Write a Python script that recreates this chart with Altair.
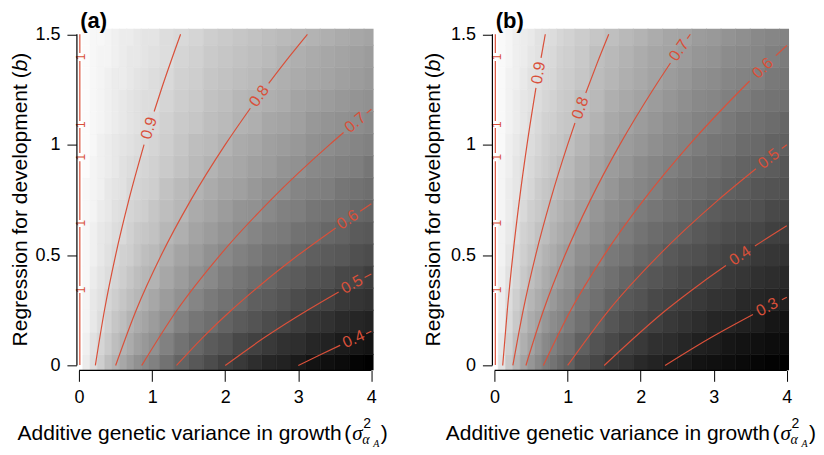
import altair as alt
import pandas as pd

RED = "#d9503a"
FONT = "Liberation Sans"
SERIF = "Liberation Serif"
W, H = 297, 342

# cell centres of the shaded grid (finer columns where the shade changes fast)
X_CENTERS = [0.0, 0.1, 0.2, 0.3, 0.4, 0.5, 0.6, 0.7, 0.8, 0.9, 1.0,
             1.2, 1.4, 1.6, 1.8, 2.0, 2.2, 2.4, 2.6, 2.8, 3.0,
             3.2, 3.4, 3.6, 3.8, 4.0]
B_CENTERS = [0.0, 0.1, 0.2, 0.3, 0.4, 0.5, 0.6, 0.7, 0.8, 0.9, 1.0,
             1.1, 1.2, 1.3, 1.4, 1.5]

# shade of each cell (x100), one row per b value, panel (a)
A_GRID = [
    [100, 95, 91, 87, 83, 80, 77, 74, 71, 69, 67, 63, 59, 56, 53, 50, 48, 45, 43, 42, 40, 38, 37, 36, 34, 33],
    [100, 96, 92, 89, 86, 83, 80, 78, 75, 73, 71, 67, 63, 60, 57, 55, 52, 50, 48, 46, 45, 43, 42, 40, 39, 38],
    [100, 97, 94, 91, 88, 85, 83, 80, 78, 76, 74, 71, 67, 64, 62, 59, 57, 55, 53, 51, 49, 47, 46, 44, 43, 42],
    [100, 97, 94, 92, 89, 87, 85, 83, 81, 79, 77, 74, 71, 68, 65, 63, 61, 58, 57, 55, 53, 51, 50, 48, 47, 46],
    [100, 98, 95, 93, 91, 89, 87, 85, 83, 81, 80, 77, 74, 71, 69, 66, 64, 62, 60, 58, 57, 55, 54, 52, 51, 49],
    [100, 98, 96, 94, 92, 90, 88, 87, 85, 83, 82, 79, 76, 74, 71, 69, 67, 65, 63, 62, 60, 58, 57, 56, 54, 53],
    [100, 98, 96, 94, 93, 91, 90, 88, 86, 85, 84, 81, 79, 76, 74, 72, 70, 68, 66, 65, 63, 62, 60, 59, 57, 56],
    [100, 98, 97, 95, 94, 92, 91, 89, 88, 87, 85, 83, 81, 78, 76, 74, 72, 71, 69, 67, 66, 64, 63, 62, 60, 59],
    [100, 98, 97, 96, 94, 93, 92, 90, 89, 88, 87, 84, 82, 80, 78, 76, 75, 73, 71, 70, 68, 67, 66, 64, 63, 62],
    [100, 99, 97, 96, 95, 94, 92, 91, 90, 89, 88, 86, 84, 82, 80, 78, 77, 75, 74, 72, 71, 69, 68, 67, 66, 64],
    [100, 99, 98, 96, 95, 94, 93, 92, 91, 90, 89, 87, 85, 83, 82, 80, 78, 77, 75, 74, 73, 71, 70, 69, 68, 67],
    [100, 99, 98, 97, 96, 95, 94, 93, 92, 91, 90, 88, 86, 85, 83, 82, 80, 79, 77, 76, 75, 73, 72, 71, 70, 69],
    [100, 99, 98, 97, 96, 95, 94, 93, 92, 91, 91, 89, 87, 86, 84, 83, 81, 80, 79, 78, 76, 75, 74, 73, 72, 71],
    [100, 99, 98, 97, 96, 95, 95, 94, 93, 92, 91, 90, 88, 87, 85, 84, 83, 82, 80, 79, 78, 77, 76, 75, 74, 73],
    [100, 99, 98, 97, 97, 96, 95, 94, 94, 93, 92, 91, 89, 88, 86, 85, 84, 83, 82, 80, 79, 78, 77, 76, 75, 74],
    [100, 99, 98, 98, 97, 96, 95, 95, 94, 93, 93, 91, 90, 89, 87, 86, 85, 84, 83, 82, 81, 80, 79, 78, 77, 76],
]

# panel (b)
B_GRID = [
    [100, 91, 83, 77, 71, 67, 63, 59, 56, 53, 50, 45, 42, 38, 36, 33, 31, 29, 28, 26, 25, 24, 23, 22, 21, 20],
    [100, 92, 86, 80, 75, 71, 67, 63, 60, 57, 55, 50, 46, 43, 40, 38, 35, 34, 32, 30, 29, 27, 26, 25, 24, 23],
    [100, 94, 88, 83, 78, 74, 71, 67, 64, 62, 59, 55, 51, 47, 44, 42, 40, 38, 36, 34, 32, 31, 30, 29, 27, 26],
    [100, 94, 89, 85, 81, 77, 74, 71, 68, 65, 63, 58, 55, 51, 48, 46, 43, 41, 39, 38, 36, 35, 33, 32, 31, 30],
    [100, 95, 91, 87, 83, 80, 77, 74, 71, 69, 66, 62, 58, 55, 52, 49, 47, 45, 43, 41, 40, 38, 37, 35, 34, 33],
    [100, 96, 92, 88, 85, 82, 79, 76, 74, 71, 69, 65, 62, 58, 56, 53, 51, 48, 46, 45, 43, 41, 40, 38, 37, 36],
    [100, 96, 93, 90, 86, 84, 81, 79, 76, 74, 72, 68, 65, 62, 59, 56, 54, 52, 50, 48, 46, 44, 43, 42, 40, 39],
    [100, 97, 94, 91, 88, 85, 83, 81, 78, 76, 74, 71, 67, 64, 62, 59, 57, 55, 53, 51, 49, 47, 46, 45, 43, 42],
    [100, 97, 94, 92, 89, 87, 84, 82, 80, 78, 76, 73, 70, 67, 64, 62, 60, 57, 55, 54, 52, 50, 49, 47, 46, 45],
    [100, 97, 95, 92, 90, 88, 86, 84, 82, 80, 78, 75, 72, 69, 67, 64, 62, 60, 58, 56, 55, 53, 51, 50, 49, 47],
    [100, 98, 95, 93, 91, 89, 87, 85, 83, 82, 80, 77, 74, 71, 69, 67, 65, 63, 61, 59, 57, 56, 54, 53, 51, 50],
    [100, 98, 96, 94, 92, 90, 88, 86, 85, 83, 82, 79, 76, 73, 71, 69, 67, 65, 63, 61, 60, 58, 56, 55, 54, 52],
    [100, 98, 96, 94, 92, 91, 89, 87, 86, 84, 83, 80, 78, 75, 73, 71, 69, 67, 65, 63, 62, 60, 59, 57, 56, 55],
    [100, 98, 96, 95, 93, 91, 90, 88, 87, 85, 84, 82, 79, 77, 75, 73, 71, 69, 67, 65, 64, 62, 61, 60, 58, 57],
    [100, 98, 97, 95, 94, 92, 91, 89, 88, 86, 85, 83, 80, 78, 76, 74, 72, 71, 69, 67, 66, 64, 63, 62, 60, 59],
    [100, 98, 97, 95, 94, 93, 91, 90, 89, 87, 86, 84, 82, 80, 78, 76, 74, 72, 71, 69, 68, 66, 65, 63, 62, 61],
]

# contour pieces (level, x points, b points); gaps leave room for labels
A_PIECES = [
    ("0.9", [0.222, 0.347, 0.5, 0.681, 0.889], [0.0, 0.25, 0.5, 0.75, 1.0]),
    ("0.9", [1.027, 1.125, 1.389], [1.15, 1.25, 1.5]),
    ("0.8", [0.5, 0.781, 1.125, 1.531, 2.0, 2.344], [0.0, 0.25, 0.5, 0.75, 1.0, 1.165]),
    ("0.8", [2.595, 2.88, 3.125], [1.278, 1.4, 1.5]),
    ("0.7", [0.857, 1.339, 1.929, 2.625, 3.429, 3.62], [0.0, 0.25, 0.5, 0.75, 1.0, 1.055]),
    ("0.7", [3.936, 4.0], [1.143, 1.16]),
    ("0.6", [1.333, 1.688, 2.083, 2.521, 3.0, 3.512], [0.0, 0.125, 0.25, 0.375, 0.5, 0.623]),
    ("0.6", [3.847, 4.0], [0.699, 0.732]),
    ("0.5", [2.0, 2.531, 3.125, 3.553], [0.0, 0.125, 0.25, 0.333]),
    ("0.5", [3.908, 4.0], [0.398, 0.414]),
    ("0.4", [3.0, 3.308, 3.574], [0.0, 0.05, 0.0915]),
    ("0.4", [3.929, 4.0], [0.144, 0.155]),
]
B_PIECES = [
    ("0.9", [0.111, 0.174, 0.25, 0.34, 0.444, 0.566], [0.0, 0.25, 0.5, 0.75, 1.0, 1.257]),
    ("0.9", [0.636, 0.694], [1.393, 1.5]),
    ("0.8", [0.25, 0.391, 0.5625, 0.766, 1.0, 1.10], [0.0, 0.25, 0.5, 0.75, 1.0, 1.098]),
    ("0.8", [1.248, 1.40, 1.5625], [1.234, 1.366, 1.5]),
    ("0.7", [0.4286, 0.67, 0.964, 1.3125, 1.714, 2.17, 2.407], [0.0, 0.25, 0.5, 0.75, 1.0, 1.25, 1.37]),
    ("0.7", [2.636, 2.679], [1.48, 1.5]),
    ("0.6", [0.667, 1.042, 1.5, 2.042, 2.667, 3.375, 3.49], [0.0, 0.25, 0.5, 0.75, 1.0, 1.25, 1.288]),
    ("0.6", [3.85, 4.0], [1.403, 1.449]),
    ("0.5", [1.0, 1.5625, 2.25, 3.0625, 3.577], [0.0, 0.25, 0.5, 0.75, 0.891]),
    ("0.5", [3.932, 4.0], [0.983, 1.0]),
    ("0.4", [1.5, 2.344, 2.836, 3.167], [0.0, 0.25, 0.375, 0.453]),
    ("0.4", [3.563, 3.792, 4.0], [0.541, 0.59, 0.633]),
    ("0.3", [2.333, 2.927, 3.536], [0.0, 0.12, 0.231]),
    ("0.3", [3.932, 4.0], [0.298, 0.309]),
]

# contour labels
A_LABEL_TEXT = ["0.9", "0.8", "0.7", "0.6", "0.5", "0.4"]
A_LABEL_X = [0.957, 2.464, 3.78, 3.676, 3.735, 3.758]
A_LABEL_B = [1.075, 1.22, 1.10, 0.66, 0.367, 0.119]
A_LABEL_ANGLE = [287, 306, 320, 325.7, 331, 335.8]

B_LABEL_TEXT = ["0.9", "0.8", "0.7", "0.6", "0.5", "0.4", "0.3"]
B_LABEL_X = [0.6, 1.173, 2.524, 3.67, 3.75, 3.36, 3.73]
B_LABEL_B = [1.325, 1.166, 1.427, 1.346, 0.9365, 0.497, 0.264]
B_LABEL_ANGLE = [279.7, 289.8, 304.6, 316.1, 322.1, 326.1, 332.9]

# contour of level 1 along the left edge, broken by its "1" labels
EDGE_ONE_B = [1.397, 1.09, 0.943, 0.645, 0.342]
EDGE_SEG_LO = [0.002, 0.36, 0.659, 0.962, 1.107, 1.415]
EDGE_SEG_HI = [0.328, 0.627, 0.925, 1.075, 1.379, 1.5]

X_TICKS = [0, 1, 2, 3, 4]
Y_TICKS = [0, 0.5, 1, 1.5]

XS = alt.Scale(domain=[-0.03, 4.03], nice=False, zero=False)
YS = alt.Scale(domain=[-0.022, 1.525], nice=False, zero=False)
XAXIS = alt.Axis(values=X_TICKS, format="d", domain=False, grid=False, title=None,
                 tickSize=11, tickColor="black", tickWidth=1,
                 labelFont=FONT, labelFontSize=18, labelColor="black", labelPadding=7)
YAXIS = alt.Axis(values=Y_TICKS, format="~g", domain=False, grid=False, title=None,
                 tickSize=10, tickColor="black", tickWidth=1,
                 labelFont=FONT, labelFontSize=18, labelColor="black", labelPadding=7)


def ex(field):
    return alt.X(field, scale=XS, axis=XAXIS)


def ey(field):
    return alt.Y(field, scale=YS, axis=YAXIS)


def text_layer(txt, x, y, size, **kw):
    return alt.Chart(pd.DataFrame({"t": [txt]})).mark_text(
        font=kw.pop("font", FONT), fontSize=size, color="black", **kw
    ).encode(x=alt.value(x), y=alt.value(y), text="t:N")


def cell_edges(centres):
    mids = [(a + b) / 2 for a, b in zip(centres[:-1], centres[1:])]
    lo = [centres[0] - (mids[0] - centres[0])] + mids
    hi = mids + [centres[-1] + (centres[-1] - mids[-1])]
    return lo, hi


def panel(grid, vmin, pieces, ltext, lx, lb, lang, tag, ytx, xtx):
    xlo, xhi = cell_edges(X_CENTERS)
    blo, bhi = cell_edges(B_CENTERS)
    cells = pd.DataFrame([
        {"x0": xlo[j], "x1": xhi[j], "y0": blo[i], "y1": bhi[i], "v": grid[i][j]}
        for i in range(len(B_CENTERS)) for j in range(len(X_CENTERS))
    ])
    shade = alt.Scale(domain=[vmin, 100], range=["#000000", "#ffffff"], interpolate="rgb")
    heat = alt.Chart(cells).mark_rect(clip=True, strokeWidth=0.6).encode(
        x=ex("x0:Q"), x2="x1:Q", y=ey("y0:Q"), y2="y1:Q",
        color=alt.Color("v:Q", scale=shade, legend=None),
        stroke=alt.Stroke("v:Q", scale=shade, legend=None),
    )

    rows = []
    for k, (lev, xs, bs) in enumerate(pieces):
        for o, (xv, bv) in enumerate(zip(xs, bs)):
            rows.append({"key": f"{lev}-{k}", "ord": o, "x": xv, "b": bv})
    lines = alt.Chart(pd.DataFrame(rows)).mark_line(
        clip=True, interpolate="monotone", strokeWidth=1.2, color=RED
    ).encode(x=ex("x:Q"), y=ey("b:Q"), detail="key:N", order="ord:Q")

    labels = alt.Chart(pd.DataFrame({"t": ltext, "x": lx, "b": lb, "a": lang})).mark_text(
        font=FONT, fontSize=16, color=RED, align="center", baseline="middle"
    ).encode(x=ex("x:Q"), y=ey("b:Q"), text="t:N", angle=alt.Angle("a:Q", scale=None))

    erows = []
    for k, (lo, hi) in enumerate(zip(EDGE_SEG_LO, EDGE_SEG_HI)):
        erows += [{"key": k, "x": 0.01, "b": lo}, {"key": k, "x": 0.01, "b": hi}]
    edge = alt.Chart(pd.DataFrame(erows)).mark_line(strokeWidth=1.2, color=RED).encode(
        x=ex("x:Q"), y=ey("b:Q"), detail="key:N")
    ones = alt.Chart(pd.DataFrame({"t": ["1"] * len(EDGE_ONE_B), "x": [0.03] * len(EDGE_ONE_B),
                                   "b": EDGE_ONE_B})).mark_text(
        font=FONT, fontSize=12, color=RED, angle=270, align="center", baseline="middle"
    ).encode(x=ex("x:Q"), y=ey("b:Q"), text="t:N")

    yline = alt.Chart(pd.DataFrame({"y0": [0.0], "y1": [1.5]})).mark_rule(color="black", strokeWidth=1.2).encode(
        x=alt.value(0), y=ey("y0:Q"), y2="y1:Q")
    xline = alt.Chart(pd.DataFrame({"x0": [0.0], "x1": [4.0]})).mark_rule(color="black", strokeWidth=1.2).encode(
        y=alt.value(H), x=ex("x0:Q"), x2="x1:Q")

    fs = 21
    w1 = 13.116 * fs
    wb = 0.556 * fs
    y0 = H / 2 + (w1 + wb + 0.333 * fs) / 2
    ytitle = [
        text_layer("Regression for development (", ytx, y0, fs, angle=270, align="left"),
        text_layer("b", ytx, y0 - w1, fs, angle=270, align="left", fontStyle="italic"),
        text_layer(")", ytx, y0 - w1 - wb, fs, angle=270, align="left"),
    ]
    xb = 406
    xtitle = [
        text_layer("Additive genetic variance in growth", xtx, xb, fs, align="left"),
        text_layer("(", xtx + 327, xb, fs, align="left"),
        text_layer("σ", xtx + 335, xb, fs, align="left", font=SERIF, fontStyle="italic"),
        text_layer("2", xtx + 346, xb - 10, 14, align="left"),
        text_layer("α", xtx + 345, xb + 6, 14, align="left", font=SERIF, fontStyle="italic"),
        text_layer("A", xtx + 356, xb + 10, 10, align="left", font=SERIF, fontStyle="italic"),
        text_layer(")", xtx + 363.5, xb, fs, align="left"),
    ]
    tagl = text_layer(tag, 3.3, -7.5, 22, align="left", fontWeight="bold")

    return alt.layer(heat, lines, labels, edge, ones, yline, xline, tagl, *ytitle, *xtitle).properties(
        width=W, height=H)


pa = panel(A_GRID, 33, A_PIECES, A_LABEL_TEXT, A_LABEL_X, A_LABEL_B, A_LABEL_ANGLE, "(a)", -55.5, -59.4)
pb = panel(B_GRID, 20, B_PIECES, B_LABEL_TEXT, B_LABEL_X, B_LABEL_B, B_LABEL_ANGLE, "(b)", -58, -46.6)

chart = alt.hconcat(pa, pb, spacing=119, bounds="flush").resolve_scale(
    color="independent", stroke="independent"
).properties(padding={"left": 2, "top": 1.5, "right": 0, "bottom": 0}).configure_view(stroke=None)

chart.save("out.html", embed_options={"renderer": "svg", "actions": False})
